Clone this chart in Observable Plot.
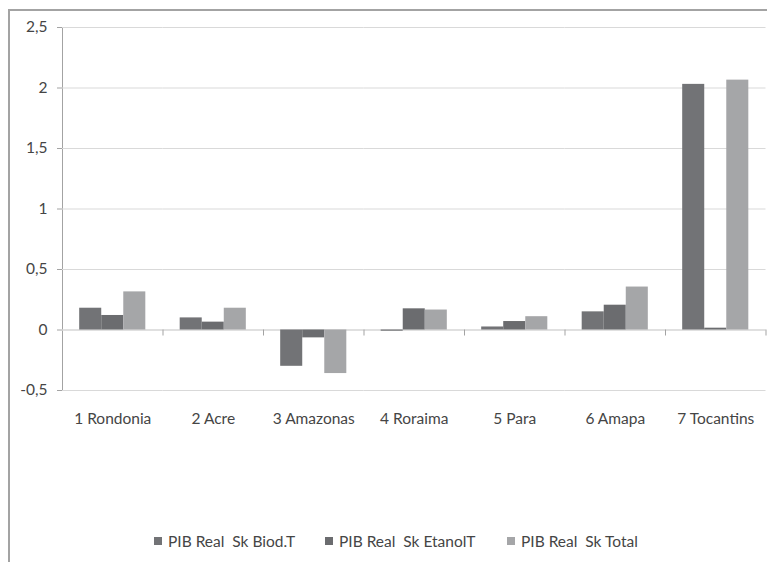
<!DOCTYPE html>
<html>
<head>
<meta charset="utf-8">
<script src="https://cdn.jsdelivr.net/npm/d3@7"></script>
<script src="https://cdn.jsdelivr.net/npm/@observablehq/plot@0.6"></script>
<style>
  html, body { margin: 0; padding: 0; width: 767px; height: 562px; overflow: hidden; background: #fff; }
  #frame { position: absolute; left: 8px; top: 9px; width: 900px; height: 700px; border: 2px solid #a3a3a3; box-sizing: border-box; }
  #chart { position: absolute; left: 0; top: 0; width: 767px; }
  #chart svg { max-width: none; }
  #chart svg text { fill: #454545; }
  #legend { position: absolute; top: 532px; left: 0; width: 767px; font-family: Lato, "Open Sans", sans-serif; font-size: 15.5px; color: #454545; }
  .item { position: absolute; display: flex; align-items: center; white-space: pre; }
  .sw { width: 8px; height: 8px; margin-right: 6px; }
</style>
</head>
<body>
<div id="frame"></div>
<div id="chart"></div>
<div id="legend"></div>
<script>
const categories = ["1 Rondonia", "2 Acre", "3 Amazonas", "4 Roraima", "5 Para", "6 Amapa", "7 Tocantins"];
const seriesNames = ["PIB Real  Sk Biod.T", "PIB Real  Sk EtanolT", "PIB Real  Sk Total"];
const biodValues = [0.18, 0.10, -0.30, -0.01, 0.025, 0.15, 2.03];
const etanolValues = [0.12, 0.065, -0.065, 0.175, 0.07, 0.205, 0.015];
const totalValues = [0.315, 0.18, -0.36, 0.165, 0.11, 0.355, 2.065];
const yTicks = [-0.5, 0, 0.5, 1, 1.5, 2, 2.5];
const colors = ["#727376", "#6b6c6f", "#a5a6a8"];

const seriesValues = [biodValues, etanolValues, totalValues];
const data = [];
categories.forEach((c, i) => {
  seriesNames.forEach((s, j) => data.push({category: c, series: s, value: seriesValues[j][i]}));
});

const W = 767, H = 430, mL = 62, mT = 27, mB = 40, mR = 1.5;
const plotW = W - mL - mR, plotH = H - mT - mB;
const halfBand = plotW / categories.length / 2;
const zeroOffset = plotH * (0 - yTicks[0]) / (yTicks[yTicks.length - 1] - yTicks[0]);
const font = "Lato, 'Open Sans', sans-serif";

const chart = Plot.plot({
  width: W, height: H,
  marginLeft: mL, marginTop: mT, marginBottom: mB, marginRight: mR,
  style: {fontFamily: font, fontSize: "15.5px", color: "#a3a3a3", background: "transparent", maxWidth: "none"},
  fx: {domain: categories, padding: 0, round: false, label: null},
  x: {domain: seriesNames, paddingInner: 0, paddingOuter: 0.78, round: false, axis: null},
  y: {domain: [yTicks[0], yTicks[yTicks.length - 1]], ticks: yTicks, tickSize: 5, tickPadding: 10,
      tickFormat: d => String(d).replace(".", ","), label: null, line: true},
  color: {domain: seriesNames, range: colors},
  marks: [
    Plot.gridY(yTicks, {stroke: "#d9d9d9", strokeOpacity: 1}),
    Plot.ruleY([0], {stroke: "#d4d4d4"}),
    Plot.barY(data, {fx: "category", x: "series", y: "value", fill: "series", inset: 0}),
    Plot.axisFx({anchor: "bottom", tickSize: 6, text: null, dx: halfBand, dy: -zeroOffset, label: null}),
    Plot.axisFx({anchor: "bottom", tickSize: 0, tickPadding: 22, label: null, fontSize: 15.5})
  ]
});
document.getElementById("chart").appendChild(chart);

const legend = document.getElementById("legend");
const lefts = [154, 325, 507];
seriesNames.forEach((s, i) => {
  const it = document.createElement("div");
  it.className = "item";
  it.style.left = lefts[i] + "px";
  const sw = document.createElement("span");
  sw.className = "sw";
  sw.style.background = colors[i];
  const t = document.createElement("span");
  t.textContent = s;
  it.appendChild(sw); it.appendChild(t);
  legend.appendChild(it);
});
</script>
</body>
</html>
